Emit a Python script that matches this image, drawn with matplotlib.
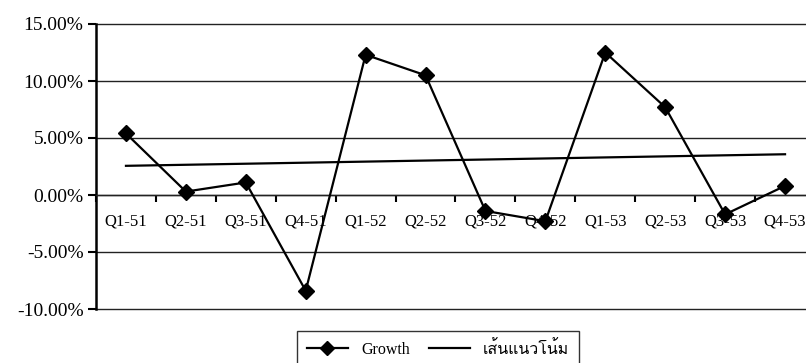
import matplotlib
matplotlib.use("Agg")
import matplotlib.pyplot as plt
from matplotlib import font_manager
from matplotlib.ft2font import FT2Font
from matplotlib.lines import Line2D
import numpy as np

quarters = ["Q1-51", "Q2-51", "Q3-51", "Q4-51", "Q1-52", "Q2-52",
            "Q3-52", "Q4-52", "Q1-53", "Q2-53", "Q3-53", "Q4-53"]
growth = [5.4, 0.3, 1.1, -8.4, 12.3, 10.5, -1.4, -2.3, 12.5, 7.7, -1.7, 0.8]
yticks = [-10, -5, 0, 5, 10, 15]
series_names = ["Growth", "เส้นแนวโน้ม"]

# find a font that has Thai glyphs
thai_fonts = []
for f in font_manager.fontManager.ttflist:
    try:
        cm = FT2Font(f.fname).get_charmap()
        if 0x0E40 in cm and f.name not in thai_fonts:
            thai_fonts.append(f.name)
    except Exception:
        pass

plt.rcParams['font.family'] = ['Liberation Serif'] + thai_fonts + ['DejaVu Sans']

fig = plt.figure(figsize=(8.06, 3.63), dpi=100)
ax = fig.add_axes([96/806, 54/363, (815-96)/806, (309-24)/363])

x = np.arange(len(quarters))
coef = np.polyfit(x, growth, 1)
trend = np.polyval(coef, x)

ax.plot(x, growth, color='black', lw=1.6, marker='D', markersize=8.5,
        markerfacecolor='black', markeredgecolor='black', zorder=3)
ax.plot([x[0], x[-1]], [trend[0], trend[-1]], color='black', lw=1.6, zorder=2)

ax.set_xlim(-0.5, len(quarters) - 0.5)
ax.set_ylim(-10, 15)
ax.set_yticks(yticks)
ax.set_yticklabels([f"{v:.2f}%" for v in yticks], fontsize=14)
ax.yaxis.grid(True, color='#222222', lw=1)
for gl in ax.get_ygridlines():
    gl.set_clip_on(False)
ax.set_axisbelow(True)

for s in ['top', 'right']:
    ax.spines[s].set_visible(False)
ax.spines['left'].set_linewidth(1.8)
ax.spines['bottom'].set_position(('data', 0))
ax.spines['bottom'].set_linewidth(1.0)
ax.spines['bottom'].set_color('#222222')

ax.set_xticks(np.arange(len(quarters) + 1) - 0.5)
ax.set_xticklabels([])
ax.set_xticks(x, minor=True)
ax.set_xticklabels(quarters, minor=True, fontsize=12)
ax.tick_params(axis='x', which='major', direction='out', length=5, width=1.5)
ax.tick_params(axis='x', which='minor', length=0, pad=13)
ax.tick_params(axis='y', direction='out', length=6, width=1.5, pad=3)

handles = [Line2D([0], [0], color='black', lw=1.6, marker='D', markersize=7),
           Line2D([0], [0], color='black', lw=1.6)]
leg = fig.legend(handles, series_names, loc='upper left',
                 bbox_to_anchor=(297/806, 1 - 331/363), ncol=2, fontsize=11.5,
                 frameon=True, fancybox=False, edgecolor='black',
                 handlelength=2.6, handletextpad=0.8, columnspacing=1.2,
                 borderpad=0.6, borderaxespad=0)
leg.get_frame().set_linewidth(1.0)

fig.savefig("out.png", dpi=100)
